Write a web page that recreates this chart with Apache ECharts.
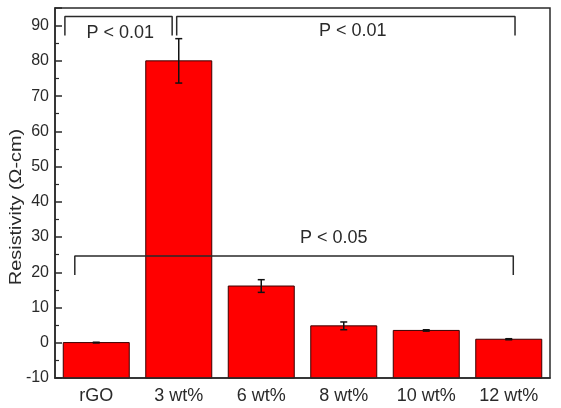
<!DOCTYPE html>
<html>
<head>
<meta charset="utf-8">
<script src="https://cdn.jsdelivr.net/npm/echarts@6/dist/echarts.min.js"></script>
<style>
  html, body { margin: 0; padding: 0; background: #fff; }
  #chart { width: 561px; height: 408px; }
</style>
</head>
<body>
<div id="chart"></div>
<script>
// Sample groups and measured resistivity (Ω-cm), mean and standard deviation
var categories = ['rGO', '3 wt%', '6 wt%', '8 wt%', '10 wt%', '12 wt%'];
var resistivity = [0.05, 80, 16.1, 4.8, 3.5, 1.0];
var resistivityErr = [0.1, 6.3, 1.8, 1.1, 0.2, 0.15];
// Bars are filled up from the bottom of the value axis
var barBase = -10;

// Significance brackets: [xStart, xEnd, yTop, yLeg] on a continuous category scale
var bracketA = [-0.38, 0.92, 92.6, 87.2];
var bracketB = [0.975, 5.076, 92.6, 87.2];
var bracketC = [-0.26, 5.055, 24.6, 19.2];
// Significance labels: [x, y, text]
var pLabels = [
  [0.29, 87.8, 'P < 0.01'],
  [3.11, 88.4, 'P < 0.01'],
  [2.88, 29.8, 'P < 0.05']
];

var FONT = 'Arial, "Liberation Sans", sans-serif';
var INK = '#2a2a2a';

function bracketPath(b) {
  return [[b[0], b[3]], [b[0], b[2]], [b[1], b[2]], [b[1], b[3]]];
}

var chart = echarts.init(document.getElementById('chart'), null, { renderer: 'canvas' });

var option = {
  animation: false,
  backgroundColor: '#fff',
  grid: {
    left: 55, right: 11, top: 8, bottom: 30,
    show: true, borderColor: INK, borderWidth: 1.5, backgroundColor: 'transparent'
  },
  xAxis: [
    {
      type: 'category',
      data: categories,
      axisLine: { onZero: false, lineStyle: { color: INK, width: 1.5 } },
      axisTick: { inside: true, alignWithLabel: true, length: 6, lineStyle: { color: INK, width: 1.5 } },
      axisLabel: { color: INK, fontSize: 18, fontFamily: FONT, margin: 9 },
      splitLine: { show: false },
      z: 10
    },
    {
      // boundary ticks between groups
      type: 'category',
      data: categories,
      position: 'bottom',
      axisLine: { show: false, onZero: false },
      axisTick: { inside: true, length: 3, lineStyle: { color: INK, width: 1.5 } },
      axisLabel: { show: false },
      splitLine: { show: false },
      z: 10
    },
    {
      // continuous scale for brackets and annotations
      type: 'value',
      min: -0.5, max: 5.5,
      show: false
    }
  ],
  yAxis: {
    type: 'value',
    min: -10, max: 95, interval: 10,
    axisLine: { show: true, onZero: false, lineStyle: { color: INK, width: 1.5 } },
    axisTick: { show: true, inside: true, length: 7, lineStyle: { color: INK, width: 1.5 } },
    minorTick: { show: true, splitNumber: 2, length: 4, lineStyle: { color: INK, width: 1.2 } },
    axisLabel: { color: INK, fontSize: 16, fontFamily: FONT, margin: 6, showMaxLabel: false },
    splitLine: { show: false },
    z: 10
  },
  graphic: [
    {
      type: 'text',
      x: 16, y: 207,
      rotation: Math.PI / 2,
      scaleX: 1.17,
      style: {
        text: 'Resistivity (Ω-cm)',
        fill: INK,
        font: '17px ' + FONT,
        align: 'center',
        verticalAlign: 'middle'
      }
    }
  ],
  series: [
    {
      // bars from the axis floor up to each mean value
      type: 'custom',
      xAxisIndex: 0,
      data: resistivity.map(function (v, i) { return [i, v]; }),
      renderItem: function (params, api) {
        var top = api.coord([api.value(0), api.value(1)]);
        var bottom = api.coord([api.value(0), barBase]);
        var w = api.size([1, 0])[0] * 0.8;
        return {
          type: 'rect',
          shape: { x: top[0] - w / 2, y: top[1], width: w, height: bottom[1] - top[1] },
          style: { fill: '#ff0000', stroke: '#3a0000', lineWidth: 1 }
        };
      },
      z: 2
    },
    {
      type: 'custom',
      xAxisIndex: 0,
      data: resistivity.map(function (v, i) { return [i, v - resistivityErr[i], v + resistivityErr[i]]; }),
      renderItem: function (params, api) {
        var lo = api.coord([api.value(0), api.value(1)]);
        var hi = api.coord([api.value(0), api.value(2)]);
        var hw = 3.5;
        var st = { stroke: '#111', lineWidth: 1.5 };
        return {
          type: 'group',
          children: [
            { type: 'line', shape: { x1: hi[0], y1: hi[1], x2: lo[0], y2: lo[1] }, style: st },
            { type: 'line', shape: { x1: hi[0] - hw, y1: hi[1], x2: hi[0] + hw, y2: hi[1] }, style: st },
            { type: 'line', shape: { x1: lo[0] - hw, y1: lo[1], x2: lo[0] + hw, y2: lo[1] }, style: st }
          ]
        };
      },
      z: 3
    },
    {
      type: 'line', xAxisIndex: 2, data: bracketPath(bracketA),
      symbol: 'none', lineStyle: { color: INK, width: 1.5 }, z: 4
    },
    {
      type: 'line', xAxisIndex: 2, data: bracketPath(bracketB),
      symbol: 'none', lineStyle: { color: INK, width: 1.5 }, z: 4
    },
    {
      type: 'line', xAxisIndex: 2, data: bracketPath(bracketC),
      symbol: 'none', lineStyle: { color: INK, width: 1.5 }, z: 4
    },
    {
      type: 'scatter', xAxisIndex: 2,
      data: pLabels.map(function (p) { return { value: [p[0], p[1]], name: p[2] }; }),
      symbolSize: 1,
      itemStyle: { opacity: 1, color: 'rgba(0,0,0,0)' },
      label: {
        show: true, position: 'inside',
        formatter: function (p) { return p.name; },
        color: INK, opacity: 1, fontSize: 18, fontFamily: FONT
      },
      z: 5
    }
  ]
};

chart.setOption(option);
</script>
</body>
</html>
